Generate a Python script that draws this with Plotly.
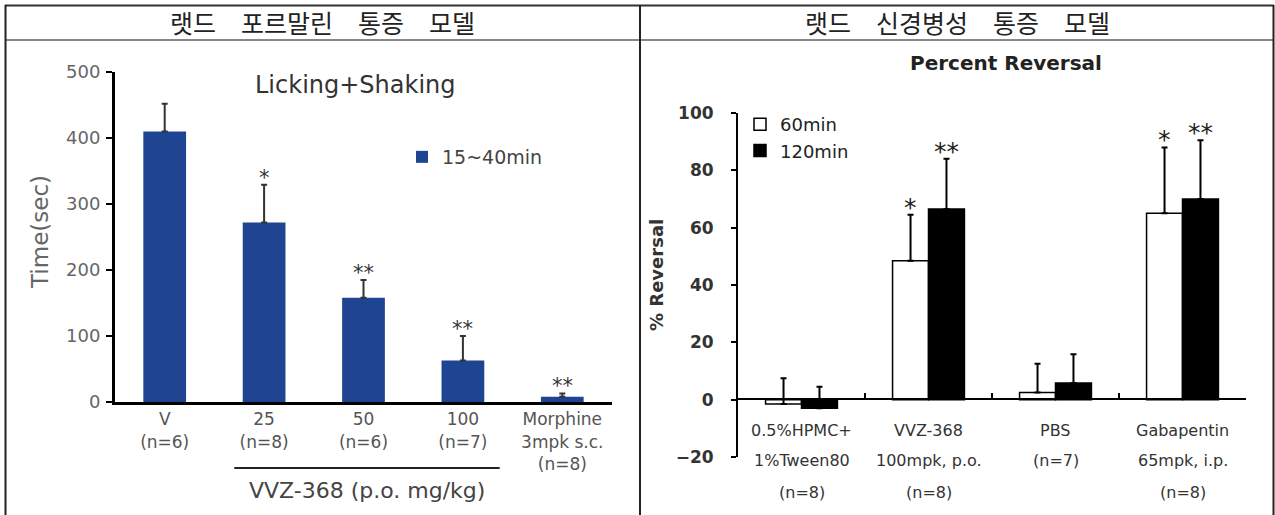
import plotly.graph_objects as go

# ---------------- data ----------------
header_left = "랫드\u2003포르말린\u2003통증\u2003모델"
header_right = "랫드\u2003신경병성\u2003통증\u2003모델"

left_title = "Licking+Shaking"
left_series = "15~40min"
left_categories = ["V", "25", "50", "100", "Morphine"]
left_tick_text = ["V<br>(n=6)", "25<br>(n=8)", "50<br>(n=6)", "100<br>(n=7)",
                  "Morphine<br>3mpk s.c.<br>(n=8)"]
left_values = [410, 272, 158, 63, 8]
left_errors = [42, 57, 27, 37, 5]
left_sig = ["", "*", "**", "**", "**"]
left_ytitle = "Time(sec)"
left_group_label = "VVZ-368 (p.o. mg/kg)"

right_title = "Percent Reversal"
right_categories = ["HPMC", "VVZ", "PBS", "Gabapentin"]
right_label_lines = [["0.5%HPMC+", "1%Tween80", "(n=8)"],
                     ["VVZ-368", "100mpk, p.o.", "(n=8)"],
                     ["PBS", "(n=7)"],
                     ["Gabapentin", "65mpk, i.p.", "(n=8)"]]
right_series = ["60min", "120min"]
right_60 = [-1.5, 48.5, 2.5, 65]
right_60_err = [9, 16, 10, 23]
right_120 = [-3, 66.5, 5.8, 70]
right_120_err = [7.5, 17.5, 10, 20.5]
sig_60 = ["", "*", "", "*"]
sig_120 = ["", "**", "", "**"]
right_ytitle = "% Reversal"

# ---------------- layout helpers ----------------
W, H = 1275, 515
def px(x):
    return x / W
def py(y):
    return 1 - y / H

BLUE = "#1f4592"
FONT = "DejaVu Sans"
KFONT = "Noto Sans CJK KR"

fig = go.Figure()

# left chart
fig.add_trace(go.Bar(
    x=list(range(len(left_categories))), y=left_values, width=0.43, name=left_series,
    marker=dict(color=BLUE, line=dict(width=0)),
    error_y=dict(type="data", array=left_errors, arrayminus=[0] * len(left_errors),
                 symmetric=False, color="#333", thickness=2, width=3),
    xaxis="x", yaxis="y", legend="legend", showlegend=True))

# right chart
bw = 0.283
fig.add_trace(go.Bar(
    x=right_categories, y=right_60, width=bw, offset=-bw, name=right_series[0],
    marker=dict(color="white", line=dict(color="black", width=1.5)),
    error_y=dict(type="data", array=right_60_err, arrayminus=[0] * 4,
                 symmetric=False, color="black", thickness=2, width=3),
    xaxis="x2", yaxis="y2", legend="legend2", showlegend=True))
fig.add_trace(go.Bar(
    x=right_categories, y=right_120, width=bw, offset=0, name=right_series[1],
    marker=dict(color="black", line=dict(color="black", width=1.5)),
    error_y=dict(type="data", array=right_120_err, arrayminus=[0] * 4,
                 symmetric=False, color="black", thickness=2, width=3),
    xaxis="x2", yaxis="y2", legend="legend2", showlegend=True))

annotations = []
def note(text, x, y, xref="paper", yref="paper", size=16, color="#333", family=FONT, **kw):
    d = dict(text=text, x=x, y=y, xref=xref, yref=yref, showarrow=False,
             xanchor=kw.pop("xanchor", "center"), yanchor=kw.pop("yanchor", "middle"),
             font=dict(family=family, size=size, color=color))
    d.update(kw)
    annotations.append(d)

# headers
note(header_left, px(322), py(22), size=25, color="#222", family=KFONT)
note(header_right, px(957), py(22), size=25, color="#222", family=KFONT)
# titles
note(left_title, px(355), py(85), size=24, color="#333")
note("<b>" + right_title + "</b>", px(1006), py(63), size=20, color="#222")
# y titles
note(left_ytitle, px(40), py(232), size=23, color="#666", textangle=-90)
note("<b>" + right_ytitle + "</b>", px(656), py(275), size=18, color="#333", textangle=-90)
# group label under left
note(left_group_label, 2.04, py(490), xref="x", size=22, color="#444")
# stars left
for i, (v, e, s) in enumerate(zip(left_values, left_errors, left_sig)):
    if s:
        note(s, i, v + e, xref="x", yref="y", yanchor="bottom", yshift=-7,
             size=21, color="#333")
# stars right
for c, v, e, s in zip(right_categories, right_60, right_60_err, sig_60):
    if s:
        note(s, c, v + e, xref="x2", yref="y2", yanchor="bottom", xshift=-18, yshift=-9,
             size=25, color="#222")
for c, v, e, s in zip(right_categories, right_120, right_120_err, sig_120):
    if s:
        note(s, c, v + e, xref="x2", yref="y2", yanchor="bottom", xshift=18, yshift=-9,
             size=25, color="#222")
# right x labels
line_y = [430, 460, 492]
for c, lines in zip(right_categories, right_label_lines):
    for i, t in enumerate(lines):
        note(t, c, py(line_y[i]), xref="x2", size=16, color="#333")

shapes = [
    # table lines
    dict(type="line", xref="paper", yref="paper", x0=px(5), x1=px(1274), y0=py(5.5), y1=py(5.5),
         line=dict(color="#333", width=2)),
    dict(type="line", xref="paper", yref="paper", x0=px(5), x1=px(1274), y0=py(40), y1=py(40),
         line=dict(color="#888", width=2)),
    dict(type="line", xref="paper", yref="paper", x0=px(5.5), x1=px(5.5), y0=py(5), y1=py(520),
         line=dict(color="#222", width=2)),
    dict(type="line", xref="paper", yref="paper", x0=px(640), x1=px(640), y0=py(5), y1=py(520),
         line=dict(color="#222", width=2)),
    dict(type="line", xref="paper", yref="paper", x0=px(1273.5), x1=px(1273.5), y0=py(5), y1=py(520),
         line=dict(color="#222", width=2)),
    # bracket under VVZ-368 doses
    dict(type="line", xref="x", yref="paper", x0=0.7, x1=3.37, y0=py(468), y1=py(468),
         line=dict(color="#222", width=2)),
]

fig.update_layout(
    width=W, height=H, margin=dict(l=0, r=0, t=0, b=0, autoexpand=False),
    paper_bgcolor="white", plot_bgcolor="white",
    barmode="group", showlegend=True,
    font=dict(family=FONT),
    annotations=annotations, shapes=shapes,
    xaxis=dict(domain=[px(115), px(612)], anchor="y", range=[-0.5, 4.5],
               tickmode="array", tickvals=list(range(len(left_categories))),
               ticktext=left_tick_text,
               showline=True, linecolor="black", linewidth=3, ticks="",
               showgrid=False, zeroline=False, automargin=False,
               tickfont=dict(family=FONT, size=17, color="#555")),
    yaxis=dict(domain=[py(402), py(72)], anchor="x", range=[0, 500], dtick=100,
               showline=True, linecolor="black", linewidth=3, ticks="outside",
               ticklen=6, tickwidth=2, tickcolor="black", showgrid=False, zeroline=False,
               automargin=False, ticklabelstandoff=2,
               tickfont=dict(family=FONT, size=18, color="#666")),
    xaxis2=dict(domain=[px(738), px(1246)], anchor="free", position=py(399),
                type="category", range=[-0.5, 3.5], showline=True, linecolor="black",
                linewidth=2, ticks="inside", tickson="boundaries", ticklen=5, tickwidth=1.5,
                tickcolor="black", showticklabels=False, showgrid=False, zeroline=False,
                automargin=False),
    yaxis2=dict(domain=[py(457), py(113)], anchor="x2", range=[-20, 100], dtick=20,
                showline=True, linecolor="black", linewidth=2, ticks="outside", ticklen=5,
                tickwidth=1.5, tickcolor="black", ticklabelstandoff=14, showgrid=False,
                zeroline=False, automargin=False,
                tickfont=dict(family=FONT, size=17, color="#333", weight="bold")),
    legend=dict(x=px(402), y=py(157), xanchor="left", yanchor="middle",
                bgcolor="rgba(0,0,0,0)", font=dict(family=FONT, size=19, color="#444"),
                itemwidth=30),
    legend2=dict(x=px(740), y=py(106), xanchor="left", yanchor="top",
                 bgcolor="rgba(0,0,0,0)", font=dict(family=FONT, size=18, color="#222"),
                 itemwidth=30, tracegroupgap=0),
)

fig.write_html("out.html", config=dict(displayModeBar=False),
               post_script="document.body.style.margin='0';document.body.style.overflow='hidden';")
